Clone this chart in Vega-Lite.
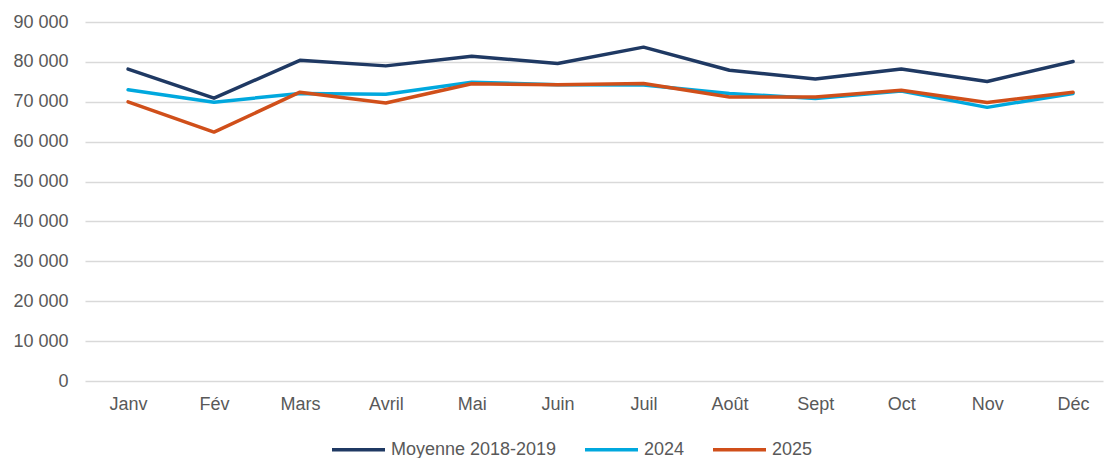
{
  "$schema": "https://vega.github.io/schema/vega-lite/v6.json",
  "autosize": {"type": "none"},
  "width": 1018,
  "height": 359,
  "padding": {"left": 85, "top": 22, "right": 2, "bottom": 77},
  "background": "white",
  "config": {
    "font": "Liberation Sans",
    "view": {"stroke": null}
  },
  "data": {
    "values": [
      {"mois": "Janv", "serie": "Moyenne 2018-2019", "valeur": 78200},
      {"mois": "Fév", "serie": "Moyenne 2018-2019", "valeur": 70900},
      {"mois": "Mars", "serie": "Moyenne 2018-2019", "valeur": 80400},
      {"mois": "Avril", "serie": "Moyenne 2018-2019", "valeur": 79000},
      {"mois": "Mai", "serie": "Moyenne 2018-2019", "valeur": 81400},
      {"mois": "Juin", "serie": "Moyenne 2018-2019", "valeur": 79600},
      {"mois": "Juil", "serie": "Moyenne 2018-2019", "valeur": 83700},
      {"mois": "Août", "serie": "Moyenne 2018-2019", "valeur": 77900},
      {"mois": "Sept", "serie": "Moyenne 2018-2019", "valeur": 75700},
      {"mois": "Oct", "serie": "Moyenne 2018-2019", "valeur": 78200},
      {"mois": "Nov", "serie": "Moyenne 2018-2019", "valeur": 75100},
      {"mois": "Déc", "serie": "Moyenne 2018-2019", "valeur": 80100},
      {"mois": "Janv", "serie": "2024", "valeur": 73000},
      {"mois": "Fév", "serie": "2024", "valeur": 69900},
      {"mois": "Mars", "serie": "2024", "valeur": 72100},
      {"mois": "Avril", "serie": "2024", "valeur": 71900},
      {"mois": "Mai", "serie": "2024", "valeur": 74900},
      {"mois": "Juin", "serie": "2024", "valeur": 74300},
      {"mois": "Juil", "serie": "2024", "valeur": 74200},
      {"mois": "Août", "serie": "2024", "valeur": 72100},
      {"mois": "Sept", "serie": "2024", "valeur": 70800},
      {"mois": "Oct", "serie": "2024", "valeur": 72700},
      {"mois": "Nov", "serie": "2024", "valeur": 68600},
      {"mois": "Déc", "serie": "2024", "valeur": 72100},
      {"mois": "Janv", "serie": "2025", "valeur": 70000},
      {"mois": "Fév", "serie": "2025", "valeur": 62400},
      {"mois": "Mars", "serie": "2025", "valeur": 72400},
      {"mois": "Avril", "serie": "2025", "valeur": 69700},
      {"mois": "Mai", "serie": "2025", "valeur": 74500},
      {"mois": "Juin", "serie": "2025", "valeur": 74300},
      {"mois": "Juil", "serie": "2025", "valeur": 74600},
      {"mois": "Août", "serie": "2025", "valeur": 71200},
      {"mois": "Sept", "serie": "2025", "valeur": 71200},
      {"mois": "Oct", "serie": "2025", "valeur": 72900},
      {"mois": "Nov", "serie": "2025", "valeur": 69800},
      {"mois": "Déc", "serie": "2025", "valeur": 72400}
    ]
  },
  "mark": {"type": "line", "strokeWidth": 3.5, "strokeCap": "round", "strokeJoin": "round"},
  "encoding": {
    "x": {
      "field": "mois",
      "type": "ordinal",
      "sort": ["Janv", "Fév", "Mars", "Avril", "Mai", "Juin", "Juil", "Août", "Sept", "Oct", "Nov", "Déc"],
      "scale": {"type": "point", "padding": 0.425, "align": 0.59},
      "axis": {
        "title": null,
        "labelAngle": 0,
        "labelFontSize": 18,
        "labelColor": "#595959",
        "labelPadding": 14,
        "ticks": false,
        "domain": false,
        "grid": false
      }
    },
    "y": {
      "field": "valeur",
      "type": "quantitative",
      "scale": {"domain": [0, 90000], "nice": false},
      "axis": {
        "title": null,
        "values": [0, 10000, 20000, 30000, 40000, 50000, 60000, 70000, 80000, 90000],
        "labelExpr": "replace(format(datum.value, ','), /,/g, ' ')",
        "labelFontSize": 18,
        "labelColor": "#595959",
        "labelPadding": 17,
        "ticks": false,
        "domain": false,
        "grid": true,
        "gridColor": "#d9d9d9",
        "gridWidth": 1.5
      }
    },
    "color": {
      "field": "serie",
      "type": "nominal",
      "sort": ["Moyenne 2018-2019", "2024", "2025"],
      "scale": {
        "domain": ["Moyenne 2018-2019", "2024", "2025"],
        "range": ["#1f3963", "#00a8de", "#d04f1a"]
      },
      "legend": {
        "title": null,
        "orient": "none",
        "direction": "horizontal",
        "legendX": 245,
        "legendY": 399,
        "symbolType": "stroke",
        "symbolSize": 2809,
        "symbolStrokeWidth": 3.5,
        "labelFontSize": 18,
        "labelColor": "#595959",
        "labelOffset": 4,
        "labelLimit": 400,
        "columnPadding": 21
      }
    },
    "order": {"field": "serie", "sort": "ascending"}
  }
}
